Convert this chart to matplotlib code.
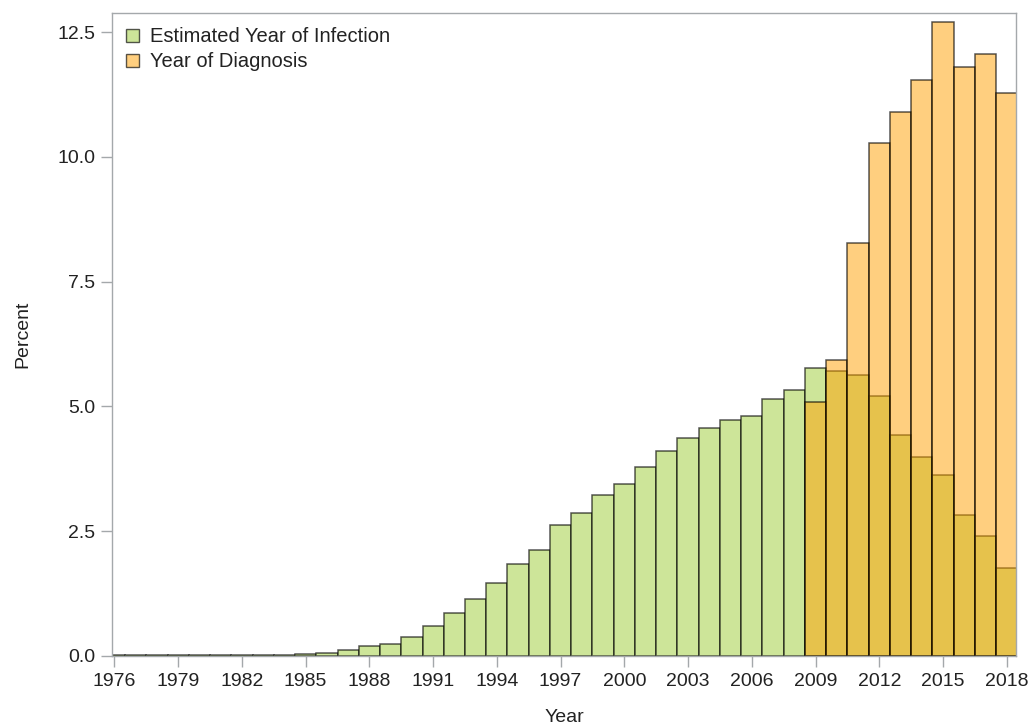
import matplotlib
matplotlib.use("Agg")
import matplotlib.pyplot as plt
from matplotlib.patches import Patch

plt.rcParams["font.family"] = ["Liberation Sans", "DejaVu Sans"]

years_inf = list(range(1976, 2019))
pct_inf = [0.01, 0.01, 0.01, 0.01, 0.01, 0.012, 0.015, 0.02, 0.025, 0.04,
           0.067, 0.11, 0.20, 0.23, 0.39, 0.60, 0.86, 1.14, 1.47, 1.85,
           2.13, 2.63, 2.86, 3.23, 3.44, 3.78, 4.11, 4.37, 4.57, 4.73,
           4.81, 5.14, 5.32, 5.76, 5.71, 5.62, 5.20, 4.43, 3.99, 3.62,
           2.83, 2.41, 1.77]

years_diag = list(range(2009, 2019))
pct_diag = [5.08, 5.93, 8.27, 10.27, 10.90, 11.54, 12.71, 11.80, 12.05, 11.27]

xticks = list(range(1976, 2019, 3))
yticks = [0.0, 2.5, 5.0, 7.5, 10.0, 12.5]

green = "#cde599"
orange = (1.0, 0.63, 0.0, 0.5)
edge = (0, 0, 0, 0.65)
frame = "#a4a8ab"
txt = "#222222"

fig = plt.figure(figsize=(10.33, 7.27), dpi=100)
ax = fig.add_axes([0.1087, 0.0977, 0.8748, 0.884])

ax.bar(years_inf, pct_inf, width=1.0, color=green, edgecolor=edge, linewidth=1.1)
ax.bar(years_diag, pct_diag, width=1.0, color=orange, edgecolor=edge, linewidth=1.1)

ax.set_xlim(1975.9, 2018.43)
ax.set_ylim(0, 12.875)
ax.set_xticks(xticks)
ax.set_yticks(yticks)
ax.set_yticklabels([f"{v:.1f}" for v in yticks])

for s in ax.spines.values():
    s.set_color(frame)
    s.set_linewidth(1.0)
ax.tick_params(axis="both", colors=frame, length=8, width=1.0, labelcolor=txt,
               labelsize=14, pad=4)

ax.set_xlabel("Year", fontsize=14, color=txt, labelpad=14)
ax.set_ylabel("Percent", fontsize=14, color=txt, labelpad=19)

handles = [Patch(facecolor=green, edgecolor=edge, label="Estimated Year of Infection"),
           Patch(facecolor=orange, edgecolor=edge, label="Year of Diagnosis")]
ax.legend(handles=handles, loc="upper left", frameon=False, fontsize=14.5,
          handlelength=0.62, handleheight=0.62, handletextpad=0.55,
          borderaxespad=0.3, labelspacing=0.3, labelcolor=txt)

fig.savefig("out.png", dpi=100)
